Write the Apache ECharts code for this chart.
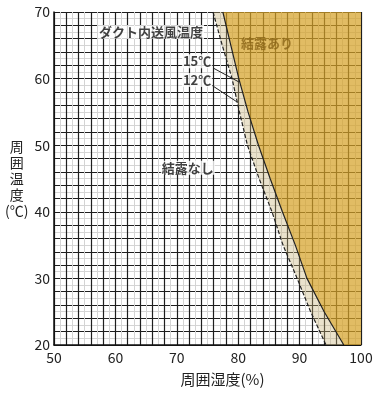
<!DOCTYPE html>
<html>
<head>
<meta charset="utf-8">
<script src="https://cdn.jsdelivr.net/npm/echarts@6/dist/echarts.min.js"></script>
<style>
html,body{margin:0;padding:0;background:#fff;}
#c{width:384px;height:395px;}
</style>
</head>
<body>
<div id="c"></div>
<script>
// ---- data ----
const humidityTicks = [50, 60, 70, 80, 90, 100];
const tempTicks = [20, 30, 40, 50, 60, 70];
const temps = [70, 65, 60, 55, 50, 45, 40, 35, 30, 25, 20];
const rh15 = [77.5, 78.8, 80.1, 81.6, 83.3, 85.2, 87.2, 89.3, 91.2, 94.0, 97.2];
const rh12 = [75.9, 77.4, 79.0, 80.2, 81.5, 83.4, 85.5, 87.3, 89.6, 91.8, 94.3];
const notes = [
  { name: 'ダクト内送風温度', value: [65.8, 67.0] },
  { name: '15℃', value: [73.3, 62.6] },
  { name: '12℃', value: [73.3, 59.8] },
  { name: '結露あり', value: [84.7, 65.3] },
  { name: '結露なし', value: [71.8, 46.6] }
];
const leader15 = [[75.9, 61.6], [80.1, 59.5]];
const leader12 = [[75.7, 59.0], [79.8, 56.5]];

const xMin = humidityTicks[0], xMax = humidityTicks[humidityTicks.length - 1];
const tMin = tempTicks[0], tMax = tempTicks[tempTicks.length - 1];
const FONT = '"Noto Sans CJK JP", "Noto Sans", sans-serif';

const pts15 = temps.map((t, i) => [rh15[i], t]);
const pts12 = temps.map((t, i) => [rh12[i], t]);

const chart = echarts.init(document.getElementById('c'), null, { renderer: 'canvas' });

const noteStyles = {
  'ダクト内送風温度': { color: '#111', backgroundColor: '#fff' },
  '15℃': { color: '#111', backgroundColor: '#fff' },
  '12℃': { color: '#111', backgroundColor: '#fff' },
  '結露あり': { color: '#8a6416', backgroundColor: 'transparent' },
  '結露なし': { color: '#111', backgroundColor: '#fff' }
};

chart.setOption({
  animation: false,
  backgroundColor: '#fff',
  grid: { left: 54, right: 23, top: 12, bottom: 50 },
  xAxis: {
    type: 'value', min: xMin, max: xMax, interval: 2,
    name: '周囲湿度(%)', nameLocation: 'middle', nameGap: 27,
    nameTextStyle: { fontFamily: FONT, fontSize: 15, color: '#222', padding: [0, 0, 0, 30] },
    axisLine: { show: true, onZero: false, lineStyle: { color: '#111', width: 1.5 } },
    axisTick: { show: false },
    axisLabel: {
      fontFamily: FONT, fontSize: 14, color: '#222', margin: 6,
      formatter: v => (humidityTicks.indexOf(v) >= 0 ? String(v) : '')
    },
    splitLine: { show: true, lineStyle: { color: '#1e1e1e', width: 1.2 } },
    minorTick: { show: false, splitNumber: 2 },
    minorSplitLine: { show: true, lineStyle: { color: '#d4d4d4', width: 1 } }
  },
  yAxis: {
    type: 'value', min: tMin, max: tMax, interval: 2,
    name: '周\n囲\n温\n度\n(℃)', nameLocation: 'middle', nameGap: 34, nameRotate: 0,
    nameTextStyle: { fontFamily: FONT, fontSize: 14, color: '#222', align: 'center', lineHeight: 16, padding: [10, 0, 0, 0] },
    axisLine: { show: true, onZero: false, lineStyle: { color: '#111', width: 1.5 } },
    axisTick: { show: false },
    axisLabel: {
      fontFamily: FONT, fontSize: 14, color: '#222', margin: 4,
      formatter: v => (tempTicks.indexOf(v) >= 0 ? String(v) : '')
    },
    splitLine: { show: true, lineStyle: { color: '#1e1e1e', width: 1.2 } },
    minorTick: { show: false, splitNumber: 2 },
    minorSplitLine: { show: true, lineStyle: { color: '#d4d4d4', width: 1 } }
  },
  series: [
    {
      name: '結露あり', type: 'custom', coordinateSystem: 'cartesian2d',
      data: pts15, encode: { x: 0, y: 1 }, silent: true, z: 1,
      renderItem: (params, api) => {
        if (params.dataIndex !== 0) return null;
        const p = pts15.map(d => api.coord(d));
        p.push(api.coord([xMax, tMin]), api.coord([xMax, tMax]));
        return { type: 'polygon', shape: { points: p }, style: { fill: 'rgba(214,162,40,0.72)' } };
      }
    },
    {
      name: '境界', type: 'custom', coordinateSystem: 'cartesian2d',
      data: pts12, encode: { x: 0, y: 1 }, silent: true, z: 1,
      renderItem: (params, api) => {
        if (params.dataIndex !== 0) return null;
        const p = pts12.map(d => api.coord(d)).concat(pts15.slice().reverse().map(d => api.coord(d)));
        return { type: 'polygon', shape: { points: p }, style: { fill: 'rgba(200,178,120,0.38)' } };
      }
    },
    {
      name: '15℃', type: 'line', data: pts15, symbol: 'none', z: 3,
      lineStyle: { color: '#222', width: 1.2 }
    },
    {
      name: '12℃', type: 'line', data: pts12, symbol: 'none', z: 3,
      lineStyle: { color: '#222', width: 1.2, type: [4, 2] }
    },
    {
      name: 'notes', type: 'scatter', symbolSize: 0, silent: true, z: 5,
      data: notes.map(n => ({
        name: n.name, value: n.value,
        label: {
          show: true, position: 'inside', formatter: '{b}',
          fontFamily: FONT, fontSize: 13, fontWeight: 'bold',
          color: noteStyles[n.name].color,
          backgroundColor: noteStyles[n.name].backgroundColor,
          padding: [1, 1, 0, 1]
        }
      })),
      markLine: {
        silent: true, symbol: 'none', animation: false,
        label: { show: false },
        lineStyle: { color: '#222', width: 1, type: 'solid' },
        data: [
          [{ coord: leader15[0] }, { coord: leader15[1] }],
          [{ coord: leader12[0] }, { coord: leader12[1] }]
        ]
      }
    }
  ]
});
</script>
</body>
</html>
